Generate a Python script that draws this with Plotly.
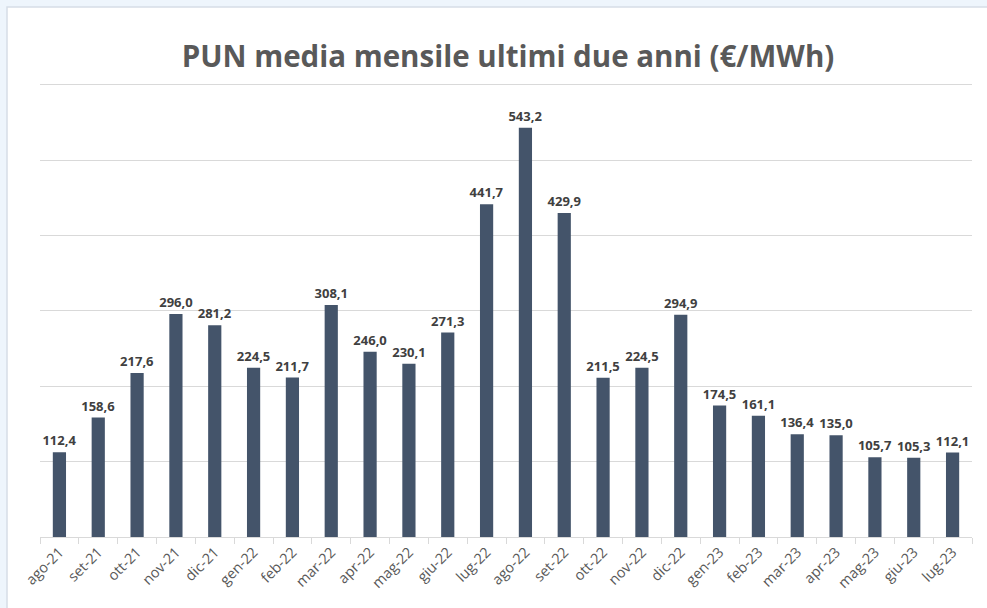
import plotly.graph_objects as go

months = ["ago-21", "set-21", "ott-21", "nov-21", "dic-21", "gen-22", "feb-22", "mar-22",
          "apr-22", "mag-22", "giu-22", "lug-22", "ago-22", "set-22", "ott-22", "nov-22",
          "dic-22", "gen-23", "feb-23", "mar-23", "apr-23", "mag-23", "giu-23", "lug-23"]
pun = [112.4, 158.6, 217.6, 296.0, 281.2, 224.5, 211.7, 308.1, 246.0, 230.1, 271.3, 441.7,
       543.2, 429.9, 211.5, 224.5, 294.9, 174.5, 161.1, 136.4, 135.0, 105.7, 105.3, 112.1]
grid_vals = [100, 200, 300, 400, 500, 600]

fig = go.Figure(go.Bar(
    x=months, y=pun,
    marker=dict(color="#44546a", line=dict(width=0)),
    texttemplate="%{y:.1f}", textposition="outside", cliponaxis=False,
    constraintext="none",
    textfont=dict(family="Open Sans", size=13, color="#404040", weight="bold"),
))

W, H = 987, 608
L, R, T, B = 40, 15, 80, 71
pw, ph = W - L - R, H - T - B

fig.add_shape(type="rect", xref="paper", yref="paper",
              x0=(7 - L) / pw, x1=(W + 5 - L) / pw,
              y0=-(B + 5) / ph, y1=(H - 7 - B) / ph,
              fillcolor="white", line=dict(color="#d6dde6", width=1.5), layer="below")

fig.update_layout(
    width=W, height=H,
    margin=dict(l=L, r=R, t=T, b=B, autoexpand=False),
    paper_bgcolor="#eef5fc", plot_bgcolor="rgba(0,0,0,0)",
    separators=",.",
    bargap=0.66,
    showlegend=False,
    title=dict(text="<b>PUN media mensile ultimi due anni (€/MWh)</b>",
               x=508 / W, xanchor="center", y=1 - 57 / H, yanchor="middle",
               font=dict(family="Open Sans", size=29.5, color="#595959")),
    xaxis=dict(tickangle=-45, tickson="boundaries", ticks="outside", ticklen=6,
               tickcolor="#d9d9d9", showline=True, linecolor="#d9d9d9", linewidth=1,
               tickfont=dict(family="Open Sans", size=14.5, color="#595959"),
               showgrid=False, automargin=False),
    yaxis=dict(range=[0, 606.6], tickvals=grid_vals,
               showticklabels=False, showgrid=True,
               gridcolor="#d9d9d9", gridwidth=1, zeroline=False, showline=False,
               automargin=False),
)

fig.write_html("out.html", config={"displayModeBar": False},
               post_script="document.body.style.margin='0';document.body.style.overflow='hidden';")
